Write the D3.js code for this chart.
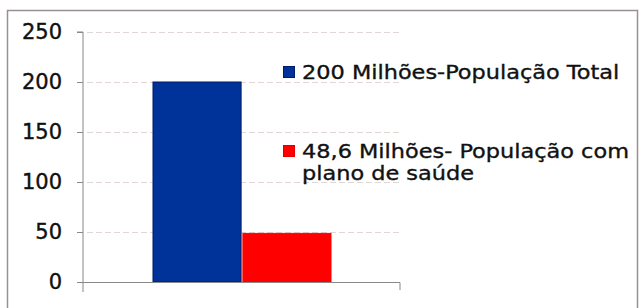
<!DOCTYPE html>
<html><head><meta charset="utf-8">
<script src="https://cdn.jsdelivr.net/npm/d3@7"></script>
<style>body{margin:0;background:#fff}svg{display:block}</style>
</head><body>
<script>
const categories = ["200 Milhões-População Total", "48,6 Milhões- População com plano de saúde"];
const values = [200, 48.6];
const colors = ["#003399", "#ff0000"];
const legendLines = [["200 Milhões-População Total"], ["48,6 Milhões- População com", "plano de saúde"]];
const yTicks = [0, 50, 100, 150, 200, 250];

const W = 640, H = 308;
const svg = d3.select("body").append("svg").attr("width", W).attr("height", H);
const font = "DejaVu Sans, Verdana, sans-serif";

// frame
svg.append("rect").attr("x", 7.5).attr("y", 10.5).attr("width", 630).attr("height", 310)
  .attr("fill", "#fff").attr("stroke", "#9a9090").attr("stroke-width", 1.5);

const x0 = 83, x1 = 400;
const y = d3.scaleLinear().domain([0, 250]).range([282, 32]);
const x = d3.scaleBand().domain(categories).range([153, 331]).paddingInner(0.02);

// gridlines
svg.append("g").selectAll("line").data(yTicks.filter(d => d > 0)).join("line")
  .attr("x1", x0 + 4).attr("x2", x1).attr("y1", d => Math.round(y(d)) + 0.5).attr("y2", d => Math.round(y(d)) + 0.5)
  .attr("stroke", "#e0d6d6").attr("stroke-dasharray", "6,3");

// bars
svg.append("g").selectAll("rect").data(values).join("rect")
  .attr("x", (d, i) => x(categories[i]))
  .attr("y", d => y(d))
  .attr("width", x.bandwidth())
  .attr("height", d => y(0) - y(d))
  .attr("fill", (d, i) => colors[i])
  .attr("stroke", (d, i) => i === 0 ? "#001a66" : "#ff0000").attr("stroke-width", 1);

// y axis
const yAxis = d3.axisLeft(y).tickValues(yTicks).tickSize(6).tickPadding(15);
const gy = svg.append("g").attr("transform", `translate(${x0},0)`).call(yAxis);
gy.select(".domain").attr("stroke", "#888").attr("d", `M-6,${y(250)}H0V${y(0) + 10}`);
gy.selectAll(".tick line").attr("stroke", "#888");
gy.selectAll("text").attr("font-family", font).attr("font-size", 21).attr("fill", "#111")
  .attr("stroke", "#111").attr("stroke-width", 0.4);

// x axis
svg.append("path").attr("d", `M${x0},${y(0) + 0.5}H${x1}V${y(0) + 8}`)
  .attr("stroke", "#888").attr("fill", "none");

// legend
const lg = svg.append("g");
const legendY = [72, 151];
legendLines.forEach((lines, i) => {
  lg.append("rect").attr("x", 283.5).attr("y", legendY[i] - 5.5).attr("width", 11).attr("height", 11)
    .attr("fill", colors[i]).attr("stroke", i === 0 ? "#001a66" : "#e00000");
  lines.forEach((t, j) => {
    lg.append("text").attr("transform", `translate(302,${legendY[i] + 7 + j * 22}) scale(1.15,1)`)
      .attr("font-family", font).attr("font-size", 19.5).attr("fill", "#111")
      .attr("stroke", "#111").attr("stroke-width", 0.35).text(t);
  });
});
</script>
</body></html>
